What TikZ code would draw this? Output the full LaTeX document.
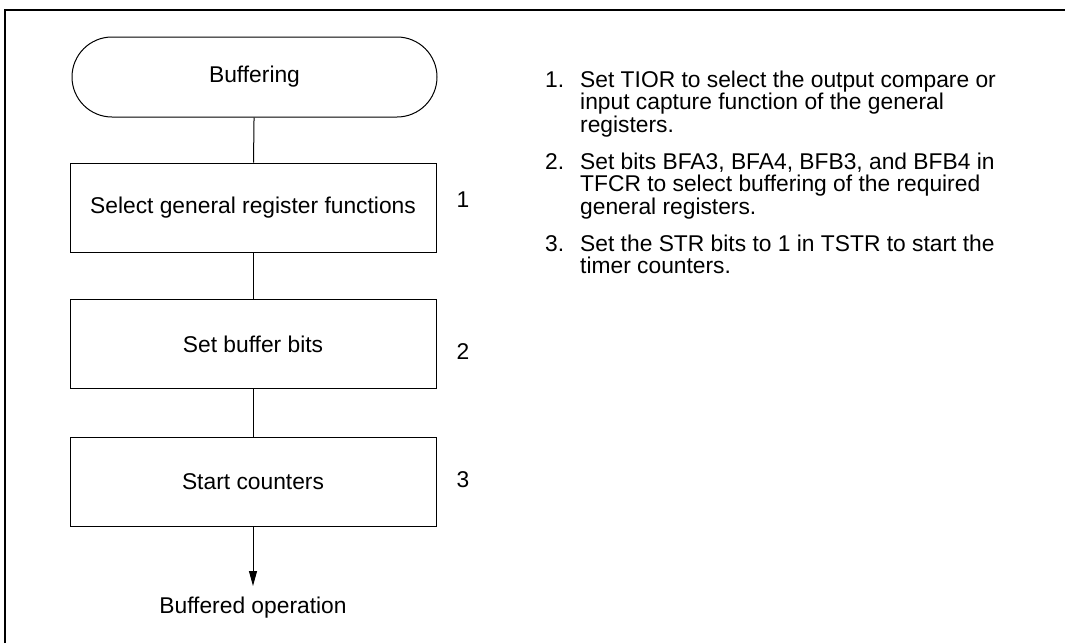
\documentclass[tikz,border=0pt]{standalone}
\usepackage{fontspec}
\setmainfont{Liberation Sans}
\usetikzlibrary{arrows.meta}
\begin{document}
\begin{tikzpicture}[x=1pt,y=-1pt,
  every node/.style={font=\fontsize{22.8}{24}\selectfont, inner sep=0pt},
  term/.style={draw, line width=1pt, minimum width=365pt, minimum height=80pt, rounded corners=40pt},
  procbox/.style={draw, line width=1pt, minimum width=366pt, minimum height=89pt},
  conn/.style={line width=1pt},
  frameline/.style={line width=2pt},
  itemnum/.style={anchor=base west},
  itemline/.style={anchor=base west}
]
\useasboundingbox (0,0) rectangle (1065,643);
\coordinate (ftl) at (5,10);
\coordinate (ftr) at (1065,10);
\coordinate (fbl) at (5,643);
\draw[frameline] (fbl) -- (ftl) -- (ftr);

\node[term] (start) at (254.5,77) {Buffering};
\node[procbox] (b1) at (253,207.5) {Select general register functions};
\node[procbox] (b2) at (253,344) {Set buffer bits};
\node[procbox] (b3) at (253,481.5) {Start counters};
\coordinate (tip) at (253,586);
\node (endtxt) at (253,608) {Buffered operation};

\draw[conn] (start) -- (b1);
\draw[conn] (b1) -- (b2);
\draw[conn] (b2) -- (b3);
\draw[conn,-{Triangle[length=15pt,width=8pt]}] (b3) -- (tip);

\node (n1) at (463,200) {1};
\node (n2) at (463,352) {2};
\node (n3) at (463,480) {3};

\node[itemnum] (i1) at (545,87) {1.};
\node[itemline] (t1) at (580,87) {Set TIOR to select the output compare or};
\node[itemline] (t1b) at (580,109.5) {input capture function of the general};
\node[itemline] (t1c) at (580,132) {registers.};

\node[itemnum] (i2) at (545,169) {2.};
\node[itemline] (t2) at (580,169) {Set bits BFA3, BFA4, BFB3, and BFB4 in};
\node[itemline] (t2b) at (580,191.5) {TFCR to select buffering of the required};
\node[itemline] (t2c) at (580,214) {general registers.};

\node[itemnum] (i3) at (545,251) {3.};
\node[itemline] (t3) at (580,251) {Set the STR bits to 1 in TSTR to start the};
\node[itemline] (t3b) at (580,273.5) {timer counters.};
\end{tikzpicture}
\end{document}
